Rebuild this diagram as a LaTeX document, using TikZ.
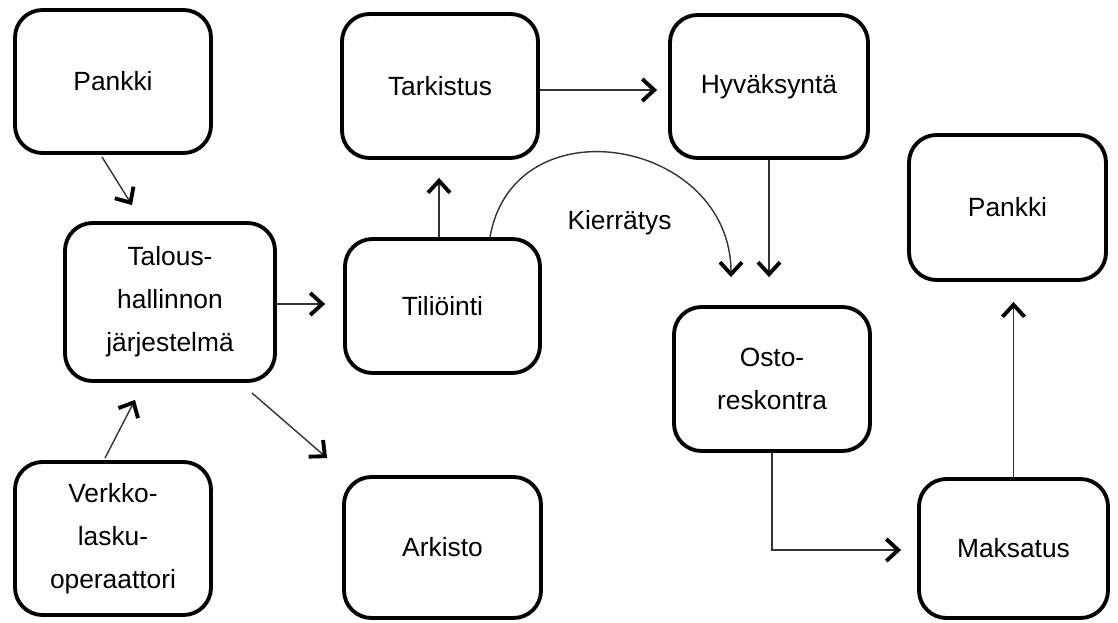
\documentclass[tikz,border=0pt]{standalone}
\usepackage{fontspec}
\setmainfont{Liberation Sans}
\usepackage{tikz}
\usetikzlibrary{positioning}
\usetikzlibrary{arrows.meta,shapes}
\usetikzlibrary{calc}
\tikzstyle{box}=[rectangle,rounded corners=0.55cm,draw=black,line width=2.2pt,fill=white,align=center,inner sep=2pt]
\tikzstyle{edge} = [draw,line width=0.8pt,black!80,-{Straight Barb[length=0.24cm,width=0.44cm,line width=2.2pt,color=black]}]
\tikzstyle{weight} = [font=\fontsize{15}{24.5}\selectfont,text=black]

\begin{document}
\begin{tikzpicture}[font=\fontsize{15}{24.5}\selectfont]

 \def\u{0.02};
 \useasboundingbox (0,0) rectangle (1118*\u,-623*\u);

   \foreach \x/\y/\w/\h/\name/\label in {113/81.5/196/143/pankkiA/Pankki,
        170/302/210/158/talous/{Talous-\\hallinnon\\järjestelmä},
        113/538.5/196/153/verkko/{Verkko-\\lasku-\\operaattori},
        440/86/196/144/tarkistus/Tarkistus,
        442.5/306/195/134/tiliointi/Tiliöinti,
        442.5/547.5/197/141/arkisto/Arkisto,
        769/86.5/198/143/hyvaksynta/Hyväksyntä,
        772/379/196/144/osto/{Osto-\\reskontra},
        1007.5/207.5/197/145/pankkiB/Pankki,
        1013.5/548.5/189/139/maksatus/Maksatus}
          \node[box,minimum width=\w*\u*1cm,minimum height=\h*\u*1cm] (\name) at (\x*\u, -\y*\u) {\label};

  % left column into the system
  \draw[edge] ([xshift=-0.22cm,yshift=-0.04cm]pankkiA.south) -- ([xshift=-0.76cm,yshift=0.32cm]talous.north);
  \draw[edge] ([xshift=-0.16cm,yshift=0.04cm]verkko.north) -- ([xshift=-0.7cm,yshift=-0.34cm]talous.south);
  \draw[edge] ([xshift=-0.5cm,yshift=-0.2cm]talous.south east) -- ([xshift=-0.3cm,yshift=0.34cm]arkisto.north west);
  \draw[edge,shorten >=0.36cm] ([yshift=-0.04cm]talous.east) -- ([yshift=-0.04cm]talous.east -| tiliointi.west);

  % approval chain
  \draw[edge,shorten >=0.36cm] ([xshift=-0.07cm]tiliointi.north) -- ([xshift=-0.07cm]tiliointi.north |- tarkistus.south);
  \draw[edge,shorten >=0.22cm] ([yshift=-0.08cm]tarkistus.east) -- ([yshift=-0.08cm]tarkistus.east -| hyvaksynta.west);
  \draw[edge,shorten >=0.56cm] (hyvaksynta.south) -- (hyvaksynta.south |- osto.north);
  \draw[edge] ([xshift=0.95cm]tiliointi.north) to[out=80,in=90,looseness=1.45]
         node[weight,midway,yshift=-1.38cm] {Kierrätys} ([xshift=-0.82cm,yshift=0.56cm]osto.north);

  % payment
  \draw[edge,shorten >=0.32cm] (osto.south) |- ([yshift=-0.03cm]maksatus.west);
  \draw[edge,shorten >=0.4cm] (maksatus.north) -- (maksatus.north |- pankkiB.south);

\end{tikzpicture}
\end{document}
